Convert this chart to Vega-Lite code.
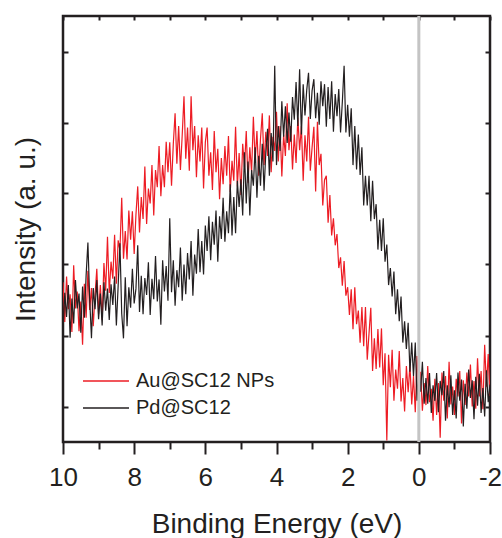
{
"$schema": "https://vega.github.io/schema/vega-lite/v6.json",
"width": 427, "height": 426,
"autosize": {"type": "none"},
"padding": {"left": 63, "top": 16, "right": 12, "bottom": 96},
"background": "white",
"config": {"view": {"stroke": "#231f20", "strokeWidth": 2.5}, "font": "Liberation Sans",
  "axis": {"domain": false, "grid": false, "tickColor": "#231f20", "tickWidth": 2, "labelColor": "#231f20", "titleColor": "#231f20", "titleFontWeight": "normal", "labelFont": "Liberation Sans", "titleFont": "Liberation Sans"}},
"resolve": {"axis": {"x": "independent", "y": "independent"}},
"layer": [
{
"data": {"values": [
{"x":10.00,"a":2.25,"p":1.55},{"x":9.95,"a":1.69,"p":2.10},{"x":9.90,"a":2.33,"p":1.76},{"x":9.85,"a":1.87,"p":2.21},{"x":9.80,"a":2.08,"p":1.47},
{"x":9.75,"a":1.55,"p":2.02},{"x":9.70,"a":2.49,"p":1.67},{"x":9.65,"a":1.88,"p":2.28},{"x":9.60,"a":2.12,"p":1.88},{"x":9.55,"a":1.56,"p":2.09},
{"x":9.50,"a":1.98,"p":1.54},{"x":9.45,"a":1.37,"p":2.19},{"x":9.40,"a":2.23,"p":1.75},{"x":9.35,"a":1.75,"p":2.35},{"x":9.30,"a":2.41,"p":2.81},
{"x":9.25,"a":1.86,"p":2.01},{"x":9.20,"a":2.17,"p":1.46},{"x":9.15,"a":1.63,"p":2.17},{"x":9.10,"a":2.07,"p":1.87},{"x":9.05,"a":2.44,"p":2.28},
{"x":9.00,"a":1.80,"p":1.73},{"x":8.95,"a":2.21,"p":2.09},{"x":8.90,"a":1.72,"p":1.64},{"x":8.85,"a":2.52,"p":2.25},{"x":8.80,"a":2.13,"p":1.85},
{"x":8.75,"a":2.89,"p":2.16},{"x":8.70,"a":2.10,"p":1.72},{"x":8.65,"a":2.54,"p":2.22},{"x":8.60,"a":2.30,"p":1.93},{"x":8.55,"a":2.92,"p":2.33},
{"x":8.50,"a":2.23,"p":1.64},{"x":8.45,"a":2.84,"p":2.20},{"x":8.40,"a":2.70,"p":2.80},{"x":8.35,"a":3.44,"p":1.81},{"x":8.30,"a":2.58,"p":1.46},
{"x":8.25,"a":2.97,"p":2.32},{"x":8.20,"a":2.57,"p":1.63},{"x":8.15,"a":3.26,"p":2.18},{"x":8.10,"a":2.85,"p":1.89},{"x":8.05,"a":3.25,"p":2.44},
{"x":8.00,"a":2.65,"p":1.95},{"x":7.95,"a":3.20,"p":2.16},{"x":7.90,"a":3.60,"p":2.77},{"x":7.85,"a":2.95,"p":1.83},{"x":7.80,"a":3.45,"p":2.34},
{"x":7.75,"a":3.14,"p":1.80},{"x":7.70,"a":3.88,"p":2.31},{"x":7.65,"a":3.07,"p":2.07},{"x":7.60,"a":3.57,"p":2.53},{"x":7.55,"a":3.36,"p":1.79},
{"x":7.50,"a":3.90,"p":2.30},{"x":7.45,"a":3.19,"p":2.01},{"x":7.40,"a":3.83,"p":2.62},{"x":7.35,"a":3.59,"p":1.98},{"x":7.30,"a":4.17,"p":2.29},
{"x":7.25,"a":3.46,"p":1.65},{"x":7.20,"a":3.90,"p":2.56},{"x":7.15,"a":3.59,"p":2.12},{"x":7.10,"a":4.23,"p":2.48},{"x":7.05,"a":3.80,"p":1.99},
{"x":7.00,"a":4.22,"p":3.15},{"x":6.95,"a":3.61,"p":2.11},{"x":6.90,"a":4.20,"p":2.56},{"x":6.85,"a":4.63,"p":1.92},{"x":6.80,"a":3.92,"p":2.42},
{"x":6.75,"a":4.45,"p":2.18},{"x":6.70,"a":3.83,"p":2.74},{"x":6.65,"a":4.32,"p":1.99},{"x":6.60,"a":4.87,"p":2.50},{"x":6.55,"a":3.99,"p":2.08},
{"x":6.50,"a":4.43,"p":2.66},{"x":6.45,"a":3.82,"p":2.29},{"x":6.40,"a":4.87,"p":2.83},{"x":6.35,"a":4.11,"p":2.06},{"x":6.30,"a":4.45,"p":2.64},
{"x":6.25,"a":3.73,"p":2.37},{"x":6.20,"a":4.32,"p":3.00},{"x":6.15,"a":3.95,"p":2.39},{"x":6.10,"a":4.43,"p":2.83},{"x":6.05,"a":3.57,"p":2.36},
{"x":6.00,"a":4.22,"p":3.05},{"x":5.95,"a":4.43,"p":2.69},{"x":5.90,"a":3.75,"p":3.18},{"x":5.85,"a":4.08,"p":2.56},{"x":5.80,"a":3.55,"p":3.10},
{"x":5.75,"a":4.38,"p":2.78},{"x":5.70,"a":3.80,"p":3.26},{"x":5.65,"a":4.13,"p":2.54},{"x":5.60,"a":3.42,"p":3.18},{"x":5.55,"a":4.00,"p":2.86},
{"x":5.50,"a":3.63,"p":3.44},{"x":5.45,"a":4.17,"p":2.82},{"x":5.40,"a":3.75,"p":3.25},{"x":5.35,"a":4.31,"p":2.94},{"x":5.30,"a":3.52,"p":3.63},
{"x":5.25,"a":3.96,"p":2.91},{"x":5.20,"a":3.68,"p":3.45},{"x":5.15,"a":4.44,"p":2.94},{"x":5.10,"a":3.60,"p":3.68},{"x":5.05,"a":4.07,"p":3.31},
{"x":5.00,"a":3.48,"p":3.70},{"x":4.95,"a":4.20,"p":3.19},{"x":4.90,"a":3.87,"p":4.08},{"x":4.85,"a":4.38,"p":3.36},{"x":4.80,"a":3.65,"p":3.95},
{"x":4.75,"a":4.15,"p":3.19},{"x":4.70,"a":3.80,"p":3.83},{"x":4.65,"a":4.58,"p":3.61},{"x":4.60,"a":3.95,"p":4.15},{"x":4.55,"a":4.38,"p":3.44},
{"x":4.50,"a":3.75,"p":4.03},{"x":4.45,"a":4.27,"p":3.61},{"x":4.40,"a":4.63,"p":4.20},{"x":4.35,"a":3.90,"p":3.54},{"x":4.30,"a":4.37,"p":4.08},
{"x":4.25,"a":4.03,"p":4.41},{"x":4.20,"a":4.60,"p":3.75},{"x":4.15,"a":3.80,"p":4.35},{"x":4.10,"a":4.30,"p":3.95},{"x":4.05,"a":4.10,"p":5.30},
{"x":4.00,"a":4.65,"p":3.90},{"x":3.95,"a":3.95,"p":4.45},{"x":3.90,"a":4.45,"p":4.10},{"x":3.85,"a":3.74,"p":4.80},{"x":3.80,"a":4.33,"p":4.30},
{"x":3.75,"a":4.03,"p":4.73},{"x":3.70,"a":4.77,"p":4.21},{"x":3.65,"a":4.11,"p":4.64},{"x":3.60,"a":4.45,"p":4.23},{"x":3.55,"a":3.84,"p":4.86},
{"x":3.50,"a":4.33,"p":4.54},{"x":3.45,"a":3.93,"p":5.07},{"x":3.40,"a":4.57,"p":4.45},{"x":3.35,"a":4.11,"p":5.25},{"x":3.30,"a":4.45,"p":4.33},
{"x":3.25,"a":3.68,"p":5.04},{"x":3.20,"a":4.32,"p":4.60},{"x":3.15,"a":3.95,"p":4.96},{"x":3.10,"a":4.58,"p":5.20},{"x":3.05,"a":3.82,"p":4.55},
{"x":3.00,"a":4.15,"p":4.95},{"x":2.95,"a":4.44,"p":5.11},{"x":2.90,"a":3.53,"p":4.56},{"x":2.85,"a":4.51,"p":4.92},{"x":2.80,"a":3.90,"p":4.47},
{"x":2.75,"a":4.06,"p":5.08},{"x":2.70,"a":3.33,"p":4.73},{"x":2.65,"a":3.69,"p":5.04},{"x":2.60,"a":3.75,"p":4.44},{"x":2.55,"a":3.09,"p":5.00},
{"x":2.50,"a":3.48,"p":4.55},{"x":2.45,"a":2.91,"p":5.08},{"x":2.40,"a":3.15,"p":4.37},{"x":2.35,"a":2.77,"p":4.90},{"x":2.30,"a":2.93,"p":4.59},
{"x":2.25,"a":2.45,"p":4.97},{"x":2.20,"a":2.60,"p":4.36},{"x":2.15,"a":2.20,"p":4.79},{"x":2.10,"a":2.55,"p":5.30},{"x":2.05,"a":2.06,"p":4.36},
{"x":2.00,"a":2.18,"p":4.75},{"x":1.95,"a":1.79,"p":4.30},{"x":1.90,"a":2.15,"p":4.70},{"x":1.85,"a":1.59,"p":3.90},{"x":1.80,"a":2.18,"p":4.45},
{"x":1.75,"a":1.66,"p":3.84},{"x":1.70,"a":1.85,"p":4.33},{"x":1.65,"a":1.40,"p":3.76},{"x":1.60,"a":1.90,"p":4.15},{"x":1.55,"a":1.35,"p":3.33},
{"x":1.50,"a":1.90,"p":3.75},{"x":1.45,"a":1.16,"p":3.33},{"x":1.40,"a":1.53,"p":3.75},{"x":1.35,"a":1.89,"p":3.11},{"x":1.30,"a":1.00,"p":3.68},
{"x":1.25,"a":1.46,"p":3.14},{"x":1.20,"a":1.03,"p":3.35},{"x":1.15,"a":1.59,"p":2.71},{"x":1.10,"a":1.05,"p":3.13},{"x":1.05,"a":1.60,"p":2.69},
{"x":1.00,"a":0.80,"p":3.15},{"x":0.95,"a":1.25,"p":2.54},{"x":0.90,"a":0.02,"p":2.78},{"x":0.85,"a":1.23,"p":2.21},{"x":0.80,"a":0.77,"p":2.45},
{"x":0.75,"a":1.30,"p":2.05},{"x":0.70,"a":0.58,"p":2.40},{"x":0.65,"a":1.02,"p":1.80},{"x":0.60,"a":0.75,"p":2.15},{"x":0.55,"a":1.28,"p":1.70},
{"x":0.50,"a":0.57,"p":2.05},{"x":0.45,"a":0.90,"p":1.40},{"x":0.40,"a":0.43,"p":1.70},{"x":0.35,"a":1.07,"p":1.31},{"x":0.30,"a":0.70,"p":1.68},
{"x":0.25,"a":1.09,"p":0.99},{"x":0.20,"a":0.53,"p":1.40},{"x":0.15,"a":0.93,"p":0.93},{"x":0.10,"a":0.42,"p":1.40},{"x":0.05,"a":1.21,"p":0.58},
{"x":0.00,"a":0.70,"p":1.10},{"x":-0.05,"a":0.99,"p":0.71},{"x":-0.10,"a":0.44,"p":1.13},{"x":-0.15,"a":0.83,"p":0.54},{"x":-0.20,"a":0.52,"p":0.90},
{"x":-0.25,"a":1.07,"p":0.54},{"x":-0.30,"a":0.56,"p":0.97},{"x":-0.35,"a":0.75,"p":0.41},{"x":-0.40,"a":0.30,"p":0.80},{"x":-0.45,"a":0.89,"p":0.58},
{"x":-0.50,"a":0.38,"p":0.97},{"x":-0.55,"a":0.83,"p":0.42},{"x":-0.60,"a":0.06,"p":0.86},{"x":-0.65,"a":0.98,"p":0.66},{"x":-0.70,"a":0.58,"p":1.00},
{"x":-0.75,"a":0.93,"p":0.30},{"x":-0.80,"a":0.33,"p":0.80},{"x":-0.85,"a":1.13,"p":0.49},{"x":-0.90,"a":0.53,"p":0.94},{"x":-0.95,"a":0.78,"p":0.38},
{"x":-1.00,"a":0.38,"p":0.73},{"x":-1.05,"a":0.89,"p":0.33},{"x":-1.10,"a":0.64,"p":0.98},{"x":-1.15,"a":1.00,"p":0.58},{"x":-1.20,"a":0.26,"p":0.88},
{"x":-1.25,"a":0.87,"p":0.22},{"x":-1.30,"a":0.52,"p":0.82},{"x":-1.35,"a":0.98,"p":0.47},{"x":-1.40,"a":0.64,"p":1.02},{"x":-1.45,"a":1.09,"p":0.62},
{"x":-1.50,"a":0.50,"p":0.87},{"x":-1.55,"a":0.86,"p":0.32},{"x":-1.60,"a":0.47,"p":0.92},{"x":-1.65,"a":1.18,"p":0.51},{"x":-1.70,"a":0.64,"p":0.96},
{"x":-1.75,"a":1.00,"p":0.41},{"x":-1.80,"a":0.46,"p":0.76},{"x":-1.85,"a":1.37,"p":0.36},{"x":-1.90,"a":0.78,"p":1.01},{"x":-1.95,"a":1.24,"p":0.56},
{"x":-2.00,"a":0.65,"p":0.81}
]},
"transform": [{"fold": ["a", "p"], "as": ["series", "intensity"]}],
"mark": {"type": "line", "strokeWidth": 1.2, "clip": true},
"encoding": {
  "x": {"field": "x", "type": "quantitative", "scale": {"domain": [-2, 10], "reverse": true, "nice": false, "zero": false},
        "axis": {"orient": "bottom", "values": [10, 8, 6, 4, 2, 0, -2], "labelExpr": "'' + datum.value", "tickSize": 12, "labelFontSize": 26, "labelPadding": 10, "labelFlush": false, "labelOverlap": false, "title": "Binding Energy (eV)", "titleFontSize": 28, "titlePadding": 20}},
  "y": {"field": "intensity", "type": "quantitative", "scale": {"domain": [0, 6], "nice": false, "zero": false},
        "axis": {"orient": "left", "values": [0.5, 1.5, 2.5, 3.5, 4.5, 5.5], "tickSize": -5, "labels": false, "title": "Intensity (a. u.)", "titleFontSize": 28, "titlePadding": 22}},
  "color": {"field": "series", "type": "nominal", "sort": ["a", "p"], "scale": {"domain": ["a", "p"], "range": ["#ed1c24", "#231f20"]},
        "legend": {"orient": "none", "legendX": 19, "legendY": 354, "title": null, "labelExpr": "datum.value == 'a' ? 'Au@SC12 NPs' : 'Pd@SC12'", "symbolType": "M-1,0H3.6", "symbolSize": 400, "symbolStrokeWidth": 1.3, "labelFontSize": 20, "labelFont": "Liberation Sans", "labelColor": "#231f20", "labelOffset": 32, "rowPadding": 6, "padding": 0}}
}
},
{
"data": {"values": [{"x": 0}]},
"mark": {"type": "rule", "color": "#c4c4c4", "strokeWidth": 3},
"encoding": {
  "x": {"field": "x", "type": "quantitative", "axis": {"orient": "top", "values": [10, 9, 8, 7, 6, 5, 4, 3, 2, 1, 0, -1, -2], "tickSize": -4, "labels": false, "title": null}}
}
},
{
"data": {"values": [{"x": 0, "y": 0}]},
"mark": {"type": "point", "opacity": 0},
"encoding": {
  "x": {"field": "x", "type": "quantitative", "axis": {"orient": "bottom", "values": [9, 7, 5, 3, 1, -1], "tickSize": 7, "labels": false, "title": null}},
  "y": {"field": "y", "type": "quantitative", "axis": {"orient": "right", "values": [0.5, 1.5, 2.5, 3.5, 4.5, 5.5], "tickSize": -5, "labels": false, "title": null}}
}
}
]
}
